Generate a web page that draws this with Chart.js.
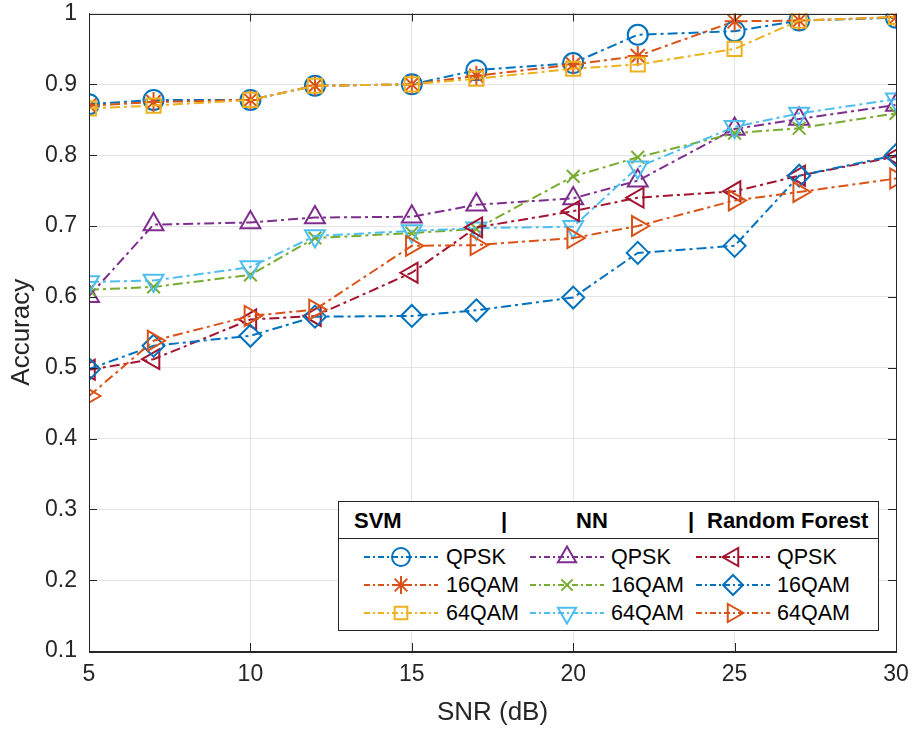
<!DOCTYPE html>
<html>
<head>
<meta charset="utf-8">
<script src="https://cdn.jsdelivr.net/npm/chart.js@4.4.1/dist/chart.umd.min.js"></script>
<style>
  html, body { margin: 0; padding: 0; background: #fff; }
  #wrap { position: relative; width: 915px; height: 731px; }
  #legend {
    position: absolute; left: 338px; top: 501px; width: 539px; height: 128px;
    border: 1px solid #262626; background: #fff;
    font-family: "Liberation Sans", Arial, sans-serif; color: #000;
  }
  #legend .hd { position: absolute; top: 6px; font-weight: bold; font-size: 22px; line-height: 26px; }
  #legend .sep { position: absolute; left: 0; right: 0; top: 36px; border-top: 1px solid #262626; }
  #legend .txt { position: absolute; font-size: 21.5px; line-height: 26px; }
  #legend canvas { position: absolute; }
</style>
</head>
<body>
<div id="wrap">
  <canvas id="chart" width="915" height="731"></canvas>
  <div id="legend"></div>
</div>
<script>
const snr = [5, 7, 10, 12, 15, 17, 20, 22, 25, 27, 30];

const svmQpsk  = [0.872, 0.878, 0.878, 0.898, 0.900, 0.920, 0.930, 0.970, 0.975, 0.990, 0.994];
const svm16qam = [0.870, 0.875, 0.878, 0.898, 0.900, 0.912, 0.928, 0.940, 0.989, 0.990, 0.995];
const svm64qam = [0.866, 0.870, 0.878, 0.898, 0.900, 0.908, 0.922, 0.928, 0.950, 0.990, 0.995];

const nnQpsk   = [0.601, 0.702, 0.705, 0.712, 0.713, 0.730, 0.739, 0.764, 0.837, 0.851, 0.871];
const nn16qam  = [0.610, 0.614, 0.631, 0.683, 0.690, 0.696, 0.770, 0.797, 0.831, 0.838, 0.859];
const nn64qam  = [0.621, 0.623, 0.642, 0.686, 0.693, 0.697, 0.699, 0.783, 0.840, 0.859, 0.879];

const rfQpsk   = [0.497, 0.512, 0.568, 0.573, 0.634, 0.698, 0.721, 0.740, 0.749, 0.771, 0.798];
const rf16qam  = [0.498, 0.531, 0.545, 0.572, 0.573, 0.581, 0.599, 0.662, 0.672, 0.771, 0.800];
const rf64qam  = [0.460, 0.538, 0.573, 0.582, 0.672, 0.673, 0.683, 0.700, 0.736, 0.748, 0.767];

const groups = ['SVM', 'NN', 'Random Forest'];
const modLabels = ['QPSK', '16QAM', '64QAM'];

// matlab default palette
const blue = '#0072BD', orange = '#D95319', yellow = '#EDB120', purple = '#7E2F8E',
      green = '#77AC30', cyan = '#4DBEEE', wine = '#A2142F';

const series = [
  { data: svmQpsk,  color: blue,   shape: 'circle',   rot: 0,   r: 10 },
  { data: svm16qam, color: orange, shape: 'star',     rot: 0,   r: 10 },
  { data: svm64qam, color: yellow, shape: 'rect',     rot: 0,   r: 10 },
  { data: nnQpsk,   color: purple, shape: 'triangle', rot: 0,   r: 11.5 },
  { data: nn16qam,  color: green,  shape: 'crossRot', rot: 0,   r: 9 },
  { data: nn64qam,  color: cyan,   shape: 'triangle', rot: 180, r: 11.5 },
  { data: rfQpsk,   color: wine,   shape: 'triangle', rot: 270, r: 11.5 },
  { data: rf16qam,  color: blue,   shape: 'rectRot',  rot: 0,   r: 11 },
  { data: rf64qam,  color: orange, shape: 'triangle', rot: 90,  r: 11.5 }
];

const dashDot = [10, 4, 3, 4];
const axisColor = '#262626';
const font = '"Liberation Sans", Arial, sans-serif';

const datasets = series.map((s, i) => ({
  label: modLabels[i % 3],
  data: snr.map((x, j) => ({ x: x, y: s.data[j] })),
  borderColor: s.color,
  borderWidth: 2,
  borderDash: dashDot,
  pointStyle: s.shape,
  pointRotation: s.rot,
  pointRadius: s.r,
  pointBorderWidth: 2,
  pointBorderColor: s.color,
  pointBackgroundColor: 'rgba(0,0,0,0)',
  fill: false,
  tension: 0,
  order: series.length - i
}));

// inward tick marks on all four sides plus the box outline
const boxTicks = {
  id: 'boxTicks',
  afterDraw(chart) {
    const { ctx, chartArea: a, scales } = chart;
    ctx.save();
    ctx.strokeStyle = axisColor;
    ctx.lineWidth = 1;
    ctx.beginPath();
    scales.x.ticks.forEach(t => {
      const px = Math.round(scales.x.getPixelForValue(t.value)) + 0.5;
      ctx.moveTo(px, a.bottom); ctx.lineTo(px, a.bottom - 8);
      ctx.moveTo(px, a.top); ctx.lineTo(px, a.top + 8);
    });
    scales.y.ticks.forEach(t => {
      const py = Math.round(scales.y.getPixelForValue(t.value)) + 0.5;
      ctx.moveTo(a.left, py); ctx.lineTo(a.left + 8, py);
      ctx.moveTo(a.right, py); ctx.lineTo(a.right - 8, py);
    });
    ctx.stroke();
    ctx.strokeRect(Math.round(a.left) + 0.5, Math.round(a.top) + 0.5,
                   Math.round(a.right - a.left), Math.round(a.bottom - a.top));
    ctx.restore();
  }
};

new Chart(document.getElementById('chart'), {
  type: 'line',
  data: { datasets: datasets },
  options: {
    responsive: false,
    animation: false,
    layout: { padding: { top: 9, right: 19, left: 0, bottom: 0 } },
    plugins: { legend: { display: false }, tooltip: { enabled: false } },
    scales: {
      x: {
        type: 'linear', min: 5, max: 30,
        ticks: { stepSize: 5, color: axisColor, font: { family: font, size: 23 }, padding: 10, maxRotation: 0 },
        grid: { color: '#e3e3e3', drawTicks: false },
        border: { color: axisColor },
        title: { display: true, text: 'SNR (dB)', color: axisColor, font: { family: font, size: 26 }, padding: { top: 0, bottom: 3 } },
        afterFit(scale) { scale.height = 80; scale.paddingLeft = 0; scale.paddingRight = 0; }
      },
      y: {
        min: 0.1, max: 1,
        ticks: {
          stepSize: 0.1, color: axisColor, font: { family: font, size: 23 }, padding: 12,
          callback: v => (Math.abs(v - 1) < 1e-9 ? '1' : v.toFixed(1))
        },
        grid: { color: '#e3e3e3', drawTicks: false },
        border: { color: axisColor },
        title: { display: true, text: 'Accuracy', color: axisColor, font: { family: font, size: 26 }, padding: { top: 6, bottom: 0 } },
        afterFit(scale) { scale.width = 89; scale.paddingTop = 0; scale.paddingBottom = 0; }
      }
    }
  },
  plugins: [boxTicks]
});

// legend: header row with classifier names, then a 3x3 grid of samples
const legend = document.getElementById('legend');
const hdPos = [[15, groups[0]], [162, '|'], [237, groups[1]], [349, '|'], [368, groups[2]]];
hdPos.forEach(([left, text]) => {
  const d = document.createElement('div');
  d.className = 'hd';
  d.style.left = left + 'px';
  d.textContent = text;
  legend.appendChild(d);
});
const sep = document.createElement('div');
sep.className = 'sep';
legend.appendChild(sep);

const colLeft = [22, 188, 354];
const colText = [107, 272, 438];
const rowMid = [55, 83, 111];
series.forEach((s, i) => {
  const col = Math.floor(i / 3), row = i % 3;
  const c = document.createElement('canvas');
  c.width = 80; c.height = 28;
  c.style.left = colLeft[col] + 'px';
  c.style.top = (rowMid[row] - 14) + 'px';
  legend.appendChild(c);
  const g = c.getContext('2d');
  g.strokeStyle = s.color;
  g.lineWidth = 1.8;
  g.setLineDash([6, 3, 2, 3]);
  g.beginPath(); g.moveTo(3, 14); g.lineTo(77, 14); g.stroke();
  g.setLineDash([]);
  g.lineWidth = 2;
  g.fillStyle = 'rgba(0,0,0,0)';
  Chart.helpers.drawPoint(g, {
    pointStyle: s.shape, rotation: s.rot,
    radius: s.r - 1, borderWidth: 2
  }, 40, 14);

  const t = document.createElement('div');
  t.className = 'txt';
  t.style.left = colText[col] + 'px';
  t.style.top = (rowMid[row] - 13) + 'px';
  t.textContent = modLabels[row];
  legend.appendChild(t);
});
</script>
</body>
</html>
